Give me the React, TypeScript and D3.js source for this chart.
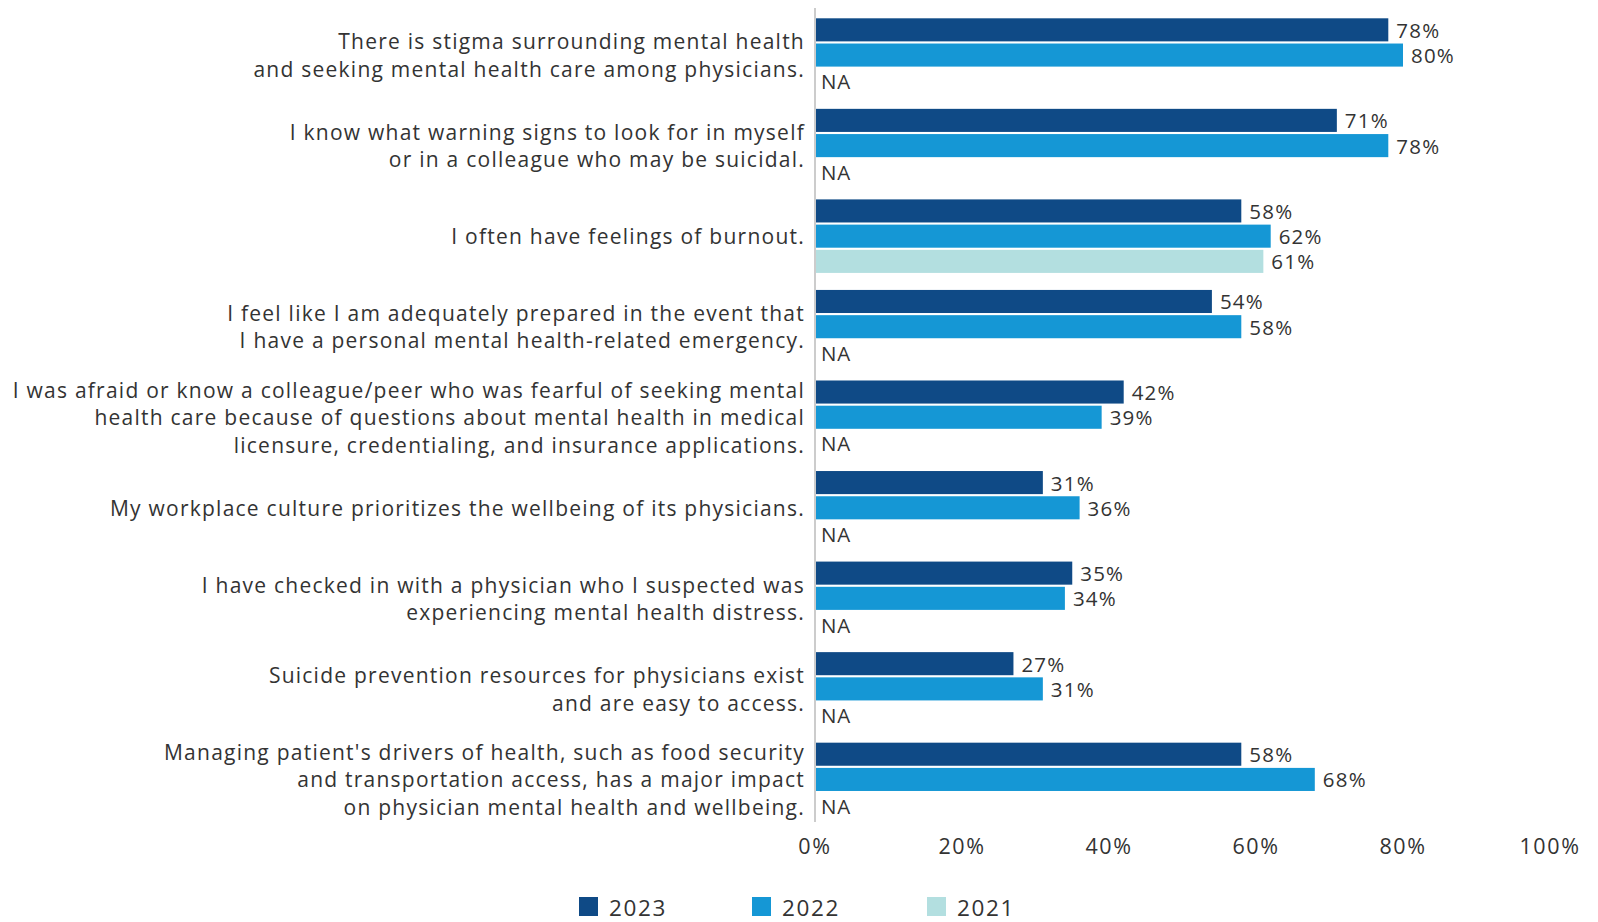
import React from "react";
import * as d3 from "d3";

const categories: string[][] = [
  ["There is stigma surrounding mental health", "and seeking mental health care among physicians."],
  ["I know what warning signs to look for in myself", "or in a colleague who may be suicidal."],
  ["I often have feelings of burnout."],
  ["I feel like I am adequately prepared in the event that", "I have a personal mental health-related emergency."],
  ["I was afraid or know a colleague/peer who was fearful of seeking mental", "health care because of questions about mental health in medical", "licensure, credentialing, and insurance applications."],
  ["My workplace culture prioritizes the wellbeing of its physicians."],
  ["I have checked in with a physician who I suspected was", "experiencing mental health distress."],
  ["Suicide prevention resources for physicians exist", "and are easy to access."],
  ["Managing patient's drivers of health, such as food security", "and transportation access, has a major impact", "on physician mental health and wellbeing."],
];

const years = ["2023", "2022", "2021"];
const values2023: (number | null)[] = [78, 71, 58, 54, 42, 31, 35, 27, 58];
const values2022: (number | null)[] = [80, 78, 62, 58, 39, 36, 34, 31, 68];
const values2021: (number | null)[] = [null, null, 61, null, null, null, null, null, null];
const tickValues = [0, 20, 40, 60, 80, 100];
const colors = ["#0f4a86", "#1597d5", "#b3dfe0"];

const W = 1598;
const H = 922;
const FONT = "'Open Sans', 'Noto Sans', sans-serif";
const TEXT = "#333333";

export default function App() {
  const series = [values2023, values2022, values2021];
  const ids = categories.map((_, i) => String(i));
  const x = d3.scaleLinear().domain([0, 100]).range([815, 1550]);
  const y = d3.scaleBand<string>().domain(ids).range([18.3, 816.2]).paddingInner(0.188).paddingOuter(0);
  const sub = d3.scaleBand<string>().domain(years).range([0, y.bandwidth()]).paddingInner(0.085);

  return (
    <svg width={W} height={H} style={{ position: "absolute", left: 0, top: 0, background: "#fff" }} fontFamily={FONT}>
      <rect x={0} y={0} width={W} height={H} fill="#fff" />
      {ids.map((id, ci) => {
        const g0 = y(id)!;
        const mid = g0 + sub("2022")! + sub.bandwidth() / 2;
        const lines = categories[ci];
        const lh = 27.5;
        return (
          <g key={id}>
            {lines.map((ln, li) => (
              <text
                key={li}
                x={805}
                y={mid + (li - (lines.length - 1) / 2) * lh}
                textAnchor="end"
                dominantBaseline="central"
                fontSize={21}
                letterSpacing={1.24}
                fill={TEXT}
              >
                {ln}
              </text>
            ))}
            {years.map((yr, si) => {
              const v = series[si][ci];
              const by = g0 + sub(yr)!;
              const cy = by + sub.bandwidth() / 2;
              if (v === null) {
                return (
                  <text key={yr} x={x(0) + 6} y={cy + 1} dominantBaseline="central" fontSize={20.5} letterSpacing={0.8} fill={TEXT}>
                    NA
                  </text>
                );
              }
              return (
                <g key={yr}>
                  <rect x={x(0) + 1} y={by} width={x(v) - x(0) - 1} height={sub.bandwidth()} fill={colors[si]} />
                  <text x={x(v) + 8} y={cy} dominantBaseline="central" fontSize={20.5} letterSpacing={1.2} fill={TEXT}>
                    {v}%
                  </text>
                </g>
              );
            })}
          </g>
        );
      })}
      <line x1={x(0)} x2={x(0)} y1={8} y2={822} stroke="#cccccc" strokeWidth={2} />
      {tickValues.map((t) => (
        <text key={t} x={x(t)} y={845} textAnchor="middle" dominantBaseline="central" fontSize={21.5} letterSpacing={1.6} fill={TEXT}>
          {t}%
        </text>
      ))}
      {years.map((yr, i) => {
        const lx = [579, 752, 927][i];
        return (
          <g key={yr}>
            <rect x={lx} y={897} width={19} height={19} fill={colors[i]} />
            <text x={lx + 30} y={907} dominantBaseline="central" fontSize={22.5} letterSpacing={1.6} fill={TEXT}>
              {yr}
            </text>
          </g>
        );
      })}
    </svg>
  );
}
